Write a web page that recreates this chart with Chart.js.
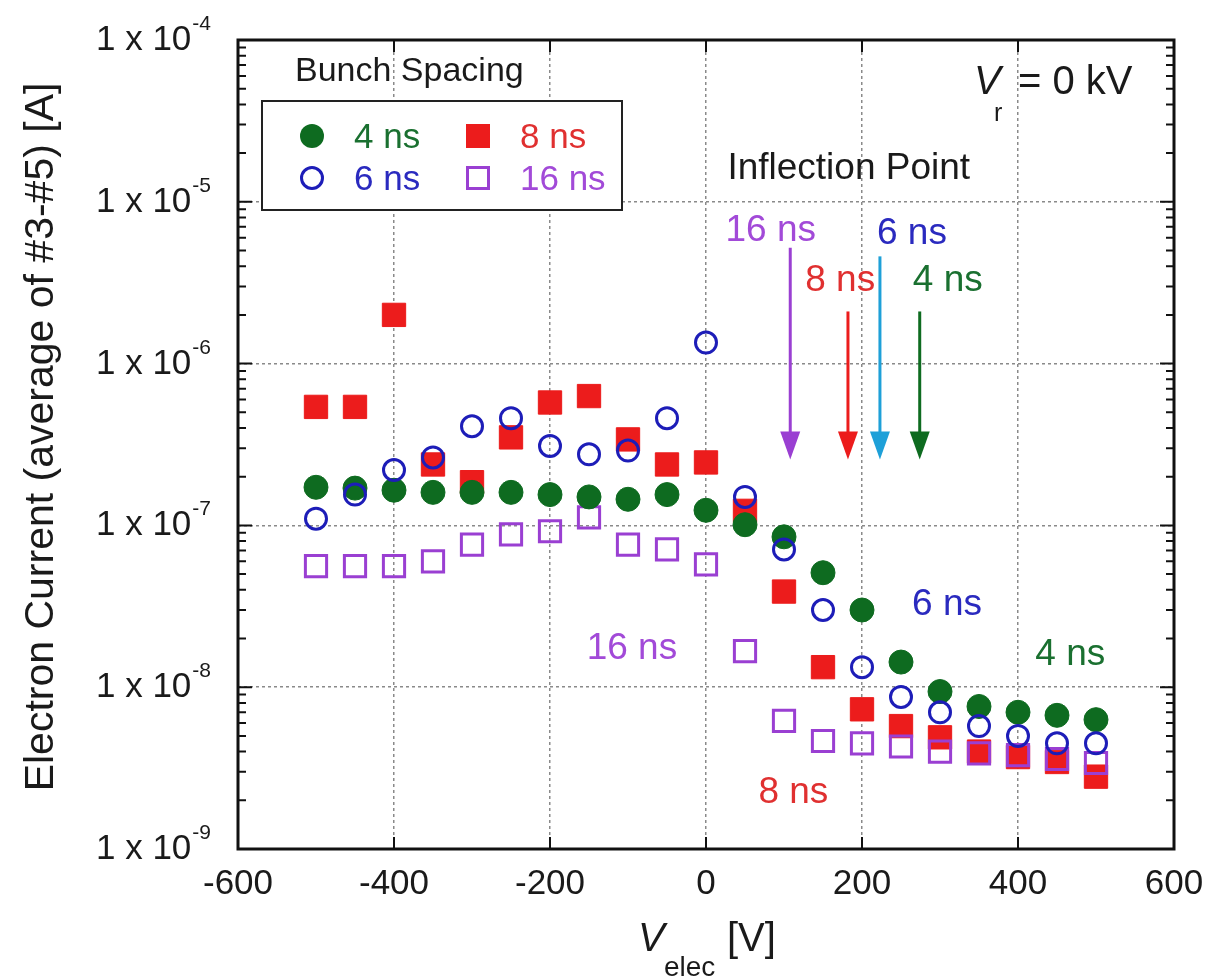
<!DOCTYPE html>
<html>
<head>
<meta charset="utf-8">
<script src="https://cdn.jsdelivr.net/npm/chart.js@4.4.1/dist/chart.umd.min.js"></script>
<style>
  html, body { margin: 0; padding: 0; background: #fff; }
  #wrap { width: 1227px; height: 978px; }
</style>
</head>
<body>
<div id="wrap"><canvas id="chart" width="1227" height="978"></canvas></div>
<script>
// Electron current vs electrode voltage, per bunch spacing
const voltages = [-500, -450, -400, -350, -300, -250, -200, -150, -100, -50, 0,
                  50, 100, 150, 200, 250, 300, 350, 400, 450, 500];
const current4ns = [1.72e-7, 1.7e-7, 1.65e-7, 1.6e-7, 1.6e-7, 1.6e-7, 1.55e-7, 1.5e-7, 1.45e-7, 1.55e-7, 1.24e-7,
                    1.01e-7, 8.5e-8, 5.1e-8, 3.0e-8, 1.43e-8, 9.4e-9, 7.6e-9, 7.0e-9, 6.7e-9, 6.3e-9];
const current6ns = [1.1e-7, 1.55e-7, 2.2e-7, 2.63e-7, 4.1e-7, 4.6e-7, 3.1e-7, 2.75e-7, 2.9e-7, 4.6e-7, 1.35e-6,
                    1.5e-7, 7.1e-8, 3.0e-8, 1.33e-8, 8.7e-9, 7.0e-9, 5.75e-9, 5.0e-9, 4.5e-9, 4.5e-9];
const current8ns = [5.4e-7, 5.4e-7, 2.0e-6, 2.38e-7, 1.85e-7, 3.5e-7, 5.75e-7, 6.3e-7, 3.4e-7, 2.38e-7, 2.45e-7,
                    1.23e-7, 3.9e-8, 1.33e-8, 7.3e-9, 5.75e-9, 4.9e-9, 4.0e-9, 3.7e-9, 3.45e-9, 2.8e-9];
const current16ns = [5.6e-8, 5.6e-8, 5.6e-8, 6.0e-8, 7.6e-8, 8.8e-8, 9.2e-8, 1.12e-7, 7.6e-8, 7.1e-8, 5.75e-8,
                     1.67e-8, 6.2e-9, 4.65e-9, 4.5e-9, 4.3e-9, 4.0e-9, 3.9e-9, 3.8e-9, 3.6e-9, 3.4e-9];

const seriesNames = ['4 ns', '6 ns', '8 ns', '16 ns'];
const xTicks = [-600, -400, -200, 0, 200, 400, 600];
const yExponents = [-9, -8, -7, -6, -5, -4];

// inflection point arrows: 16, 8, 6, 4 ns
const arrowNames = ['16 ns', '8 ns', '6 ns', '4 ns'];
const arrowVoltages = [108, 182, 223, 274];
const arrowTops = [5.2e-6, 2.1e-6, 4.6e-6, 2.1e-6];
const arrowTip = 2.55e-7;

const GREEN = '#0e6b20', BLUE = '#1d1db8', RED = '#ec1c1c', PURPLE = '#9a3fd2', CYAN = '#1ea0d8';
const GREEN_T = '#1a7030', BLUE_T = '#2a2abf', RED_T = '#e03030', PURPLE_T = '#a24ad8';
const FONT = "'Liberation Sans', Arial, sans-serif";

// text labels placed in data units: [text, voltage, current, color]
const arrowLabels = [
  [arrowNames[0], 83, 6.9e-6, PURPLE_T],
  [arrowNames[1], 172, 3.4e-6, RED_T],
  [arrowNames[2], 264, 6.6e-6, BLUE_T],
  [arrowNames[3], 310, 3.4e-6, GREEN_T]
];
const seriesLabels = [
  ['6 ns', 309, 3.35e-8, BLUE_T],
  ['4 ns', 467, 1.64e-8, GREEN_T],
  ['16 ns', -95, 1.8e-8, PURPLE_T],
  ['8 ns', 112, 2.3e-9, RED_T]
];

const toPoints = ys => voltages.map((v, i) => ({ x: v, y: ys[i] }));

const overlay = {
  id: 'overlay',
  afterDraw(chart) {
    const { ctx, chartArea: a, scales: { x, y } } = chart;
    ctx.save();

    // minor / major ticks on y, inside both sides
    ctx.strokeStyle = '#111';
    ctx.lineWidth = 2;
    for (let e = -9; e < -4; e++) {
      for (let m = 1; m <= 9; m++) {
        const py = y.getPixelForValue(m * Math.pow(10, e));
        const len = m === 1 ? 14 : 8;
        ctx.beginPath();
        ctx.moveTo(a.left, py); ctx.lineTo(a.left + len, py);
        ctx.moveTo(a.right, py); ctx.lineTo(a.right - len, py);
        ctx.stroke();
      }
    }
    xTicks.forEach(v => {
      const px = x.getPixelForValue(v);
      ctx.beginPath();
      ctx.moveTo(px, a.bottom); ctx.lineTo(px, a.bottom - 12);
      ctx.moveTo(px, a.top); ctx.lineTo(px, a.top + 12);
      ctx.stroke();
    });

    // frame
    ctx.lineWidth = 3;
    ctx.strokeRect(a.left, a.top, a.right - a.left, a.bottom - a.top);

    // y tick labels with superscript exponent
    ctx.fillStyle = '#1a1a1a';
    ctx.textAlign = 'right';
    ctx.textBaseline = 'alphabetic';
    yExponents.forEach(e => {
      const py = y.getPixelForValue(Math.pow(10, e));
      const exp = String(e);
      ctx.font = '21px ' + FONT;
      const ew = ctx.measureText(exp).width;
      ctx.fillText(exp, 211, py - 10);
      ctx.font = '35px ' + FONT;
      ctx.fillText('1 x 10', 211 - ew - 1, py + 10);
    });

    // axis titles
    ctx.save();
    ctx.translate(42, 437);
    ctx.rotate(-Math.PI / 2);
    ctx.textAlign = 'center';
    ctx.textBaseline = 'middle';
    ctx.font = '41px ' + FONT;
    ctx.fillText('Electron Current (average of #3-#5) [A]', 0, 0);
    ctx.restore();

    ctx.textAlign = 'left';
    ctx.font = 'italic 40px ' + FONT;
    ctx.fillText('V', 638, 951);
    ctx.font = '28px ' + FONT;
    ctx.fillText('elec', 664, 976);
    ctx.font = '40px ' + FONT;
    ctx.fillText('[V]', 727, 951);

    // V_r = 0 kV
    ctx.font = 'italic 40px ' + FONT;
    ctx.fillText('V', 974, 94);
    ctx.font = '25px ' + FONT;
    ctx.fillText('r', 994, 121);
    ctx.font = '40px ' + FONT;
    ctx.fillText('= 0 kV', 1018, 94);

    // legend
    ctx.font = '34px ' + FONT;
    ctx.fillText('Bunch Spacing', 295, 81);
    ctx.fillStyle = '#fff';
    ctx.fillRect(262, 101, 360, 109);
    ctx.strokeStyle = '#222';
    ctx.lineWidth = 2;
    ctx.strokeRect(262, 101, 360, 109);
    const legendRows = [
      [312, 136, 'circle', true, GREEN, GREEN_T, seriesNames[0]],
      [478, 136, 'rect', true, RED, RED_T, seriesNames[2]],
      [312, 178, 'circle', false, BLUE, BLUE_T, seriesNames[1]],
      [478, 178, 'rect', false, PURPLE, PURPLE_T, seriesNames[3]]
    ];
    legendRows.forEach(([lx, ly, style, filled, col, tcol, name]) => {
      ctx.beginPath();
      if (style === 'circle') ctx.arc(lx, ly, filled ? 12 : 10.5, 0, Math.PI * 2);
      else if (filled) ctx.rect(lx - 12, ly - 12, 24, 24);
      else ctx.rect(lx - 10.5, ly - 10.5, 21, 21);
      if (filled) { ctx.fillStyle = col; ctx.fill(); }
      else { ctx.strokeStyle = col; ctx.lineWidth = 3; ctx.stroke(); }
      ctx.fillStyle = tcol;
      ctx.font = '35px ' + FONT;
      ctx.fillText(name, lx + 42, ly + 12);
    });

    // inflection point arrows
    ctx.fillStyle = '#1a1a1a';
    ctx.textAlign = 'center';
    ctx.font = '37px ' + FONT;
    ctx.fillText('Inflection Point', x.getPixelForValue(183), y.getPixelForValue(1.67e-5) + 13);
    const arrowColors = [PURPLE, RED, CYAN, GREEN];
    arrowVoltages.forEach((v, i) => {
      const px = x.getPixelForValue(v);
      const top = y.getPixelForValue(arrowTops[i]);
      const tip = y.getPixelForValue(arrowTip);
      ctx.strokeStyle = arrowColors[i];
      ctx.fillStyle = arrowColors[i];
      ctx.lineWidth = 3;
      ctx.beginPath();
      ctx.moveTo(px, top); ctx.lineTo(px, tip - 20);
      ctx.stroke();
      ctx.beginPath();
      ctx.moveTo(px - 10, tip - 28); ctx.lineTo(px + 10, tip - 28); ctx.lineTo(px, tip);
      ctx.closePath();
      ctx.fill();
    });

    ctx.font = '37px ' + FONT;
    arrowLabels.concat(seriesLabels).forEach(([t, v, c, col]) => {
      ctx.fillStyle = col;
      ctx.fillText(t, x.getPixelForValue(v), y.getPixelForValue(c) + 13);
    });

    ctx.restore();
  }
};

new Chart(document.getElementById('chart'), {
  type: 'scatter',
  data: {
    datasets: [{
      label: seriesNames[1],
      data: toPoints(current6ns),
      order: 0,
      pointStyle: 'circle',
      pointRadius: 10.5,
      backgroundColor: 'rgba(0,0,0,0)',
      borderColor: BLUE,
      pointBorderWidth: 3
    }, {
      label: seriesNames[0],
      data: toPoints(current4ns),
      order: 1,
      pointStyle: 'circle',
      pointRadius: 12,
      backgroundColor: GREEN,
      borderColor: GREEN,
      pointBorderWidth: 1
    }, {
      label: seriesNames[3],
      data: toPoints(current16ns),
      order: 2,
      pointStyle: 'rect',
      pointRadius: 15,
      backgroundColor: 'rgba(0,0,0,0)',
      borderColor: PURPLE,
      pointBorderWidth: 3
    }, {
      label: seriesNames[2],
      data: toPoints(current8ns),
      order: 3,
      pointStyle: 'rect',
      pointRadius: 16.5,
      backgroundColor: RED,
      borderColor: RED,
      pointBorderWidth: 1
    }]
  },
  options: {
    responsive: false,
    animation: false,
    devicePixelRatio: 1,
    layout: { padding: { left: 0, right: 53, top: 40, bottom: 0 } },
    plugins: { legend: { display: false }, tooltip: { enabled: false } },
    scales: {
      x: {
        type: 'linear',
        min: -600, max: 600,
        afterFit: s => { s.height = 129; },
        afterBuildTicks: s => { s.ticks = xTicks.map(v => ({ value: v })); },
        ticks: { color: '#1a1a1a', font: { family: FONT, size: 35 }, padding: 14 },
        grid: { color: '#8a8a8a', lineWidth: 1.5, drawTicks: false },
        border: { display: false, dash: [3, 3] }
      },
      y: {
        type: 'logarithmic',
        min: 1e-9, max: 1e-4,
        afterFit: s => { s.width = 238; },
        ticks: { display: false },
        grid: {
          color: c => {
            const e = Math.log10(c.tick.value);
            return Math.abs(e - Math.round(e)) < 1e-6 ? '#8a8a8a' : 'rgba(0,0,0,0)';
          },
          lineWidth: 1.5,
          drawTicks: false
        },
        border: { display: false, dash: [3, 3] }
      }
    }
  },
  plugins: [overlay]
});
</script>
</body>
</html>
